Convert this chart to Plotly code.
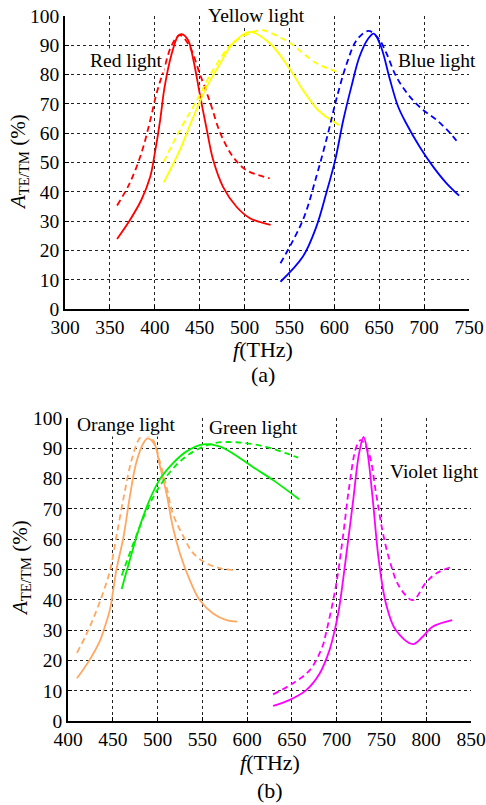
import plotly.graph_objects as go

W, H = 486, 805

# ---------------- (a) data ----------------
red_f_s = [358, 372, 385, 395, 400, 406, 411, 419, 426, 430, 437, 443, 450, 458, 465, 476, 491, 506, 529]
red_A_s = [23.9, 30.2, 37.2, 45.2, 53.1, 64.5, 75.9, 87.3, 93.2, 93.8, 91.8, 85.0, 73.6, 61.1, 50.9, 41.7, 34.9, 31.0, 28.7]
red_f_d = [358, 372, 385, 395, 402, 410, 419, 428, 439, 450, 462, 473, 487, 502, 528]
red_A_d = [35.3, 42.9, 53.1, 64.5, 73.6, 81.6, 90.1, 93.5, 89.5, 80.4, 70.2, 60.0, 52.0, 47.4, 44.6]

yel_f_s = [410, 428, 443, 458, 473, 487, 506, 528, 551, 565, 580, 591, 605]
yel_A_s = [43.2, 54.3, 65.6, 75.9, 83.9, 90.7, 94.6, 90.7, 81.6, 74.7, 68.5, 65.6, 62.8]
yel_f_d = [410, 428, 447, 465, 487, 517, 528, 551, 565, 580, 593, 607]
yel_A_d = [50.3, 61.1, 71.3, 81.6, 90.7, 95.2, 94.4, 90.7, 87.3, 83.9, 82.1, 80.6]

blu_f_s = [540, 565, 580, 591, 601, 610, 619, 628, 638, 644, 652, 662, 671, 680, 695, 710, 725, 739]
blu_A_s = [9.3, 17.9, 28.1, 39.5, 50.9, 64.5, 75.9, 86.1, 92.4, 94.0, 89.5, 78.2, 69.1, 63.4, 55.4, 48.6, 42.9, 38.7]
blu_f_d = [540, 565, 580, 593, 602, 614, 625, 638, 649, 658, 669, 684, 699, 714, 729, 739]
blu_A_d = [15.6, 30.4, 45.2, 60.0, 71.3, 83.9, 91.8, 94.9, 92.4, 87.3, 79.3, 72.5, 67.9, 64.5, 60.0, 56.3]

# ---------------- (b) data ----------------
org_f_s = [410, 424, 436, 441, 447, 454, 462, 469, 476, 484, 489, 497, 502, 510, 517, 525, 536, 547, 562, 577, 589]
org_A_s = [14.1, 20.1, 26.7, 31.0, 37.0, 49.8, 60.8, 74.0, 85.0, 91.6, 93.3, 91.1, 85.0, 75.1, 64.1, 55.3, 46.5, 39.9, 35.5, 33.3, 32.8]
org_f_d = [410, 421, 432, 440, 447, 454, 463, 471, 480, 486, 495, 502, 510, 517, 529, 540, 555, 570, 584]
org_A_d = [22.5, 28.9, 36.6, 43.0, 49.8, 60.8, 75.1, 86.1, 93.3, 94.4, 92.7, 86.1, 77.3, 68.5, 60.8, 55.3, 52.0, 50.4, 49.8]

grn_f_s = [460, 469, 480, 491, 502, 517, 532, 551, 569, 584, 606, 629, 658]
grn_A_s = [43.6, 53.1, 64.1, 72.9, 79.5, 85.0, 88.9, 91.3, 90.6, 88.3, 83.9, 79.5, 73.2]
grn_f_d = [460, 473, 488, 502, 521, 540, 562, 588, 621, 644, 657]
grn_A_d = [48.0, 58.6, 69.6, 77.3, 84.5, 88.9, 91.6, 92.0, 90.5, 88.3, 86.9]

vio_f_s = [629, 647, 666, 681, 692, 699, 703, 710, 718, 725, 730, 734, 740, 747, 755, 766, 785, 796, 807, 829]
vio_A_s = [5.0, 6.9, 10.2, 15.7, 23.4, 31.5, 37.7, 53.1, 71.8, 88.3, 93.8, 89.4, 74.0, 53.1, 38.8, 30.0, 25.4, 27.8, 31.1, 33.3]
vio_f_d = [629, 651, 670, 684, 688, 699, 707, 714, 722, 727, 736, 744, 751, 759, 770, 785, 799, 811, 829]
vio_A_d = [8.8, 12.4, 16.8, 24.5, 28.9, 44.3, 60.8, 77.3, 90.5, 92.7, 88.3, 75.1, 63.0, 53.1, 44.3, 39.9, 45.4, 48.7, 50.9]

RED, YEL, BLU = "#FF0000", "#FFFF00", "#0000FF"
ORG, GRN, VIO = "#FFA862", "#00EE00", "#FF00FF"
FONT = "Liberation Serif"
DASH = "6px,4px"

fig = go.Figure()

def add(f, a, color, dashed, xa, ya):
    fig.add_trace(go.Scatter(
        x=f, y=a, mode="lines", xaxis=xa, yaxis=ya, showlegend=False,
        line=dict(color=color, width=1.8, shape="spline", smoothing=1.0,
                  dash=DASH if dashed else "solid")))

add(red_f_s, red_A_s, RED, False, "x", "y")
add(red_f_d, red_A_d, RED, True, "x", "y")
add(yel_f_s, yel_A_s, YEL, False, "x", "y")
add(yel_f_d, yel_A_d, YEL, True, "x", "y")
add(blu_f_s, blu_A_s, BLU, False, "x", "y")
add(blu_f_d, blu_A_d, BLU, True, "x", "y")
add(org_f_s, org_A_s, ORG, False, "x2", "y2")
add(org_f_d, org_A_d, ORG, True, "x2", "y2")
add(grn_f_s, grn_A_s, GRN, False, "x2", "y2")
add(grn_f_d, grn_A_d, GRN, True, "x2", "y2")
add(vio_f_s, vio_A_s, VIO, False, "x2", "y2")
add(vio_f_d, vio_A_d, VIO, True, "x2", "y2")

def px(x):
    return x / W

def py(y):
    return 1 - y / H

axis_common = dict(
    showline=True, linecolor="black", linewidth=1.5,
    showgrid=True, gridcolor="#222", griddash="dot", gridwidth=1,
    ticks="inside", ticklen=4, tickcolor="black",
    zeroline=False, mirror=False, automargin=False,
    ticklabeloverflow="allow",
    tickfont=dict(family=FONT, size=19.5, color="black"),
)

fig.update_layout(
    width=W, height=H,
    template="none",
    margin=dict(l=0, r=0, t=0, b=0),
    paper_bgcolor="white", plot_bgcolor="white",
    font=dict(family=FONT, size=19, color="black"),
    xaxis=dict(domain=[px(65), px(469)], range=[300, 750], dtick=50, anchor="y", **axis_common),
    yaxis=dict(domain=[py(309), py(16)], range=[0, 100], dtick=10, anchor="x", **axis_common),
    xaxis2=dict(domain=[px(68), px(471)], range=[400, 850], dtick=50, anchor="y2", **axis_common),
    yaxis2=dict(domain=[py(721), py(418)], range=[0, 100], dtick=10, anchor="x2", **axis_common),
)

def ann(text, x, y, bg=True, angle=0, size=19.5):
    fig.add_annotation(
        text=text, x=px(x), y=py(y), xref="paper", yref="paper",
        showarrow=False, xanchor="center", yanchor="middle", textangle=angle,
        bgcolor="white" if bg else None, borderpad=1,
        font=dict(family=FONT, size=size, color="black"))

# curve labels
ann("Red light", 126, 60)
ann("Yellow light", 256, 16)
ann("Blue light", 437, 60)
ann("Orange light", 127, 424)
ann("Green light", 254, 427)
ann("Violet light", 434, 471)

# axis titles and panel labels
ytitle = "<i>A</i><sub>TE/TM</sub> (%)"
ann(ytitle, 19, 162, bg=False, angle=-90, size=21)
ann(ytitle, 21, 568, bg=False, angle=-90, size=21)
ann("<i>f</i>(THz)", 263, 350, bg=False, size=22)
ann("(a)", 263, 374, bg=False, size=22)
ann("<i>f</i>(THz)", 270, 762, bg=False, size=22)
ann("(b)", 270, 790, bg=False, size=22)

fig.write_html("out.html")
